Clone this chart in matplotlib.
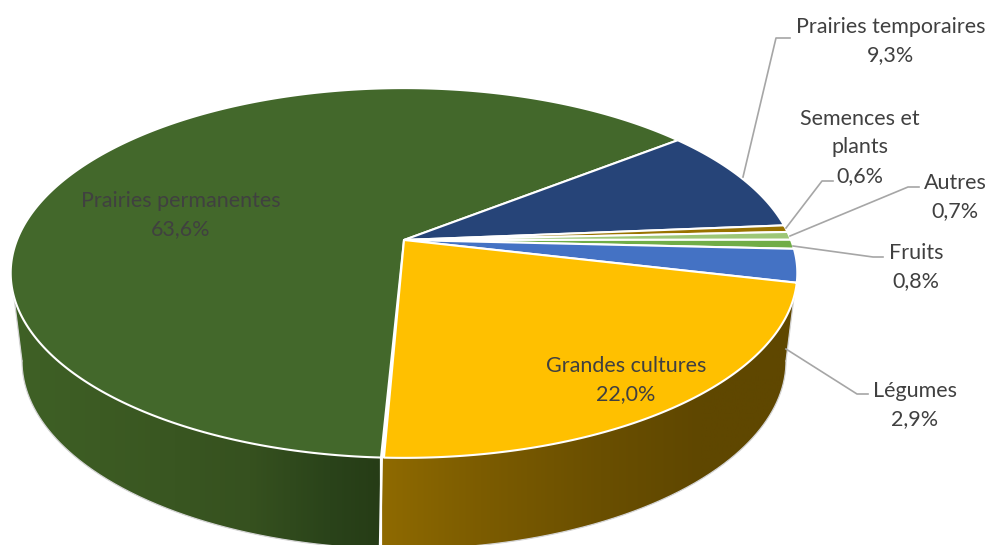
import numpy as np
import matplotlib
matplotlib.use("Agg")
import matplotlib.pyplot as plt
from matplotlib.patches import Polygon
from matplotlib.colors import to_rgb

plt.rcParams['font.family'] = ['Lato', 'DejaVu Sans']

# shares of each crop, clockwise from the front of the pie
categories = ["Prairies permanentes", "Prairies temporaires", "Semences et\nplants",
              "Autres", "Fruits", "Légumes", "Grandes cultures"]
values = [63.6, 9.3, 0.6, 0.7, 0.8, 2.9, 22.0]
colors = ["#43682b", "#264478", "#997300", "#9dc777", "#70ad47", "#4472c4", "#ffc000"]

# label centre (x, y of first line), all in pixels of the picture
label_pos = [(181, 200), (891, 26), (860, 118), (955, 182), (916, 252), (915, 390), (626, 365)]
# leader lines
leaders = [None,
           [(743, 177), (776, 38), (790, 38)],
           [(786, 228), (822, 181), (833, 181)],
           [(790, 236), (908, 187), (919, 187)],
           [(793, 246), (873, 257), (883, 257)],
           [(786, 349), (857, 394), (868, 394)],
           None]

# perspective of the top disc: apex, far and near rim
cx, apex_y = 404, 240
persp = 66 / 370
a = 179.0
k = 387.0
start_deg = 182.8  # measured clockwise from the far side

# lower rim
low_cy, low_rx, low_ry = 361, 382, 188
top_cy, top_rx, top_ry = 273, 393, 185


def rim(deg):
    th = np.radians(deg)
    u, v = np.sin(th), np.cos(th)
    return cx + k * u / (1 + persp * v), apex_y - a * v / (1 + persp * v)


fig = plt.figure(figsize=(9.89, 5.45), dpi=100)
ax = fig.add_axes([0, 0, 1, 1])

# side wall, only the front half shows
sep_x, sep_y = rim(start_deg)
t = np.linspace(np.pi, 0, 500)
top_x, top_y = cx + top_rx * np.cos(t), top_cy + top_ry * np.sin(t)
low_x, low_y = cx + low_rx * np.cos(t), low_cy + low_ry * np.sin(t)


def wall(keep_top, keep_low, x0, x1, stops_x, stops_c):
    pts = np.vstack([np.c_[top_x[keep_top], top_y[keep_top]],
                     np.c_[low_x[keep_low], low_y[keep_low]][::-1]])
    patch = Polygon(pts, closed=True, facecolor="none", edgecolor="none")
    ax.add_patch(patch)
    xs = np.linspace(x0, x1, 400)
    rgb = np.array([np.interp(xs, stops_x, [to_rgb(c)[i] for c in stops_c]) for i in range(3)]).T
    im = ax.imshow(rgb[None, :, :], extent=[x0, x1, 560, 200], aspect="auto", zorder=1)
    im.set_clip_path(patch)


wall(top_x <= sep_x, low_x <= sep_x, 10, sep_x,
     [10, 100, 250, 330, sep_x], ["#3f6126", "#3c5b23", "#36511f", "#2a431a", "#263c16"])
wall(top_x >= sep_x, low_x >= sep_x, sep_x, 800,
     [sep_x, 480, 600, 700, 800], ["#8f6a00", "#7c5c00", "#6a4f00", "#5f4700", "#5f4700"])

# outline of the wall
ax.plot(low_x, low_y, color="#d4d4d4", lw=0.9, zorder=2)
ax.plot([top_x[0], low_x[0]], [top_y[0], low_y[0]], color="#d4d4d4", lw=0.9, zorder=2)
ax.plot([top_x[-1], low_x[-1]], [top_y[-1], low_y[-1]], color="#d4d4d4", lw=0.9, zorder=2)
ax.plot([sep_x, sep_x], [sep_y, 545], color="white", lw=1.6, zorder=3)

# top of the pie
pos = start_deg
for val, col in zip(values, colors):
    span = val * 3.6
    deg = np.linspace(pos, pos + span, 300)
    rx, ry = rim(deg)
    pts = np.vstack([[cx, apex_y], np.c_[rx, ry]])
    ax.add_patch(Polygon(pts, closed=True, facecolor=col, edgecolor="white", lw=1.5,
                         joinstyle="round", zorder=4))
    pos += span

# labels
for name, val, (lx, ly), lead in zip(categories, values, label_pos, leaders):
    txt = name + "\n" + ("%.1f%%" % val).replace(".", ",")
    ax.text(lx, ly - 9, txt, ha="center", va="top", fontsize=15.5, color="#404040",
            linespacing=1.52, zorder=6)
    if lead is not None:
        ax.plot(*zip(*lead), color="#a6a6a6", lw=1.2, zorder=5)

ax.set_xlim(0, 989)
ax.set_ylim(545, 0)
ax.axis("off")

fig.savefig("out.png", dpi=100)
